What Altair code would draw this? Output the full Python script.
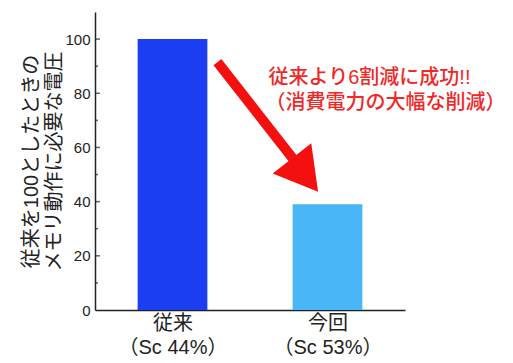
import altair as alt
import pandas as pd

categories = ["従来", "今回"]
subtitles = ["（Sc 44%）", "（Sc 53%）"]
values = [100, 39]
bar_colors = ["#1c3ef2", "#48b6f7"]

major_ticks = [0, 20, 40, 60, 80, 100]
minor_ticks = [10, 30, 50, 70, 90]

note_lines = ["従来より6割減に成功!!", "（消費電力の大幅な削減）"]
note_x = [1.12, 1.1]
note_y = [85.6, 76.4]

arrow_x = [0.79, 1.33]
arrow_y = [91.5, 52]
head_x = [1.355]
head_y = [49.8]

FONT = "Liberation Sans, Noto Sans CJK JP"

pos = [i + 0.5 for i in range(len(categories))]
bars = pd.DataFrame({
    "cat": categories,
    "x": [p - 0.225 for p in pos],
    "x2": [p + 0.225 for p in pos],
    "v": values,
    "c": bar_colors,
})

label_expr = " : ".join(
    f"datum.value == {p} ? ['{c}', '{s}']" for p, c, s in zip(pos, categories, subtitles)
) + " : ''"

xscale = alt.Scale(domain=[0, 2], nice=False, zero=False)
yscale = alt.Scale(domain=[0, 110], nice=False)

bar_layer = alt.Chart(bars).mark_bar().encode(
    x=alt.X("x:Q", scale=xscale, axis=alt.Axis(
        values=pos, labelExpr=label_expr, title=None, ticks=False, grid=False,
        labelFont=FONT, labelFontSize=20, labelColor="#222",
        labelLineHeight=24, labelPadding=3, domainColor="#222", domainWidth=1.5,
        labelAngle=0)),
    x2="x2:Q",
    y=alt.Y("v:Q", scale=yscale, axis=alt.Axis(
        values=major_ticks, grid=False, ticks=False,
        title=["従来を100としたときの", "メモリ動作に必要な電圧"],
        titleFont=FONT, titleFontSize=20, titleFontWeight="normal",
        titleColor="#222", titleLineHeight=23, titlePadding=0,
        labelFont="Liberation Sans", labelFontSize=15, labelColor="#222",
        labelPadding=5, domainColor="#222", domainWidth=1.5)),
    y2=alt.datum(0),
    color=alt.Color("c:N", scale=None),
)

major_df = pd.DataFrame({"t": major_ticks[1:]})
major = alt.Chart(major_df).mark_tick(color="#222", thickness=1.5, size=5, orient="horizontal").encode(
    y=alt.Y("t:Q", scale=yscale), x=alt.value(2.5))
minor_df = pd.DataFrame({"t": minor_ticks})
minor = alt.Chart(minor_df).mark_tick(color="#222", thickness=1.5, size=3, orient="horizontal").encode(
    y=alt.Y("t:Q", scale=yscale), x=alt.value(1.5))

arrow_df = pd.DataFrame({"x": arrow_x, "y": arrow_y})
shaft = alt.Chart(arrow_df).mark_line(color="#f51010", strokeWidth=10, strokeCap="butt").encode(
    x=alt.X("x:Q", scale=xscale), y=alt.Y("y:Q", scale=yscale))

head_df = pd.DataFrame({"x": head_x, "y": head_y})
head = alt.Chart(head_df).mark_point(
    shape="triangle-up", filled=True, color="#f51010", size=2400, angle=142, opacity=1
).encode(x=alt.X("x:Q", scale=xscale), y=alt.Y("y:Q", scale=yscale))

note_df = pd.DataFrame({"t": note_lines, "x": note_x, "y": note_y})
note = alt.Chart(note_df).mark_text(
    align="left", baseline="middle", font=FONT, fontSize=20,
    color="#f02828", fontWeight=500
).encode(x=alt.X("x:Q", scale=xscale), y=alt.Y("y:Q", scale=yscale), text="t:N")

chart = alt.layer(bar_layer, major, minor, shaft, head, note).properties(
    width=310, height=298,
    autosize=alt.AutoSizeParams(type="none"),
    padding={"left": 95, "top": 12, "right": 108, "bottom": 53},
).configure_view(stroke=None)

chart.save("out.html", embed_options={"renderer": "svg", "actions": False})
